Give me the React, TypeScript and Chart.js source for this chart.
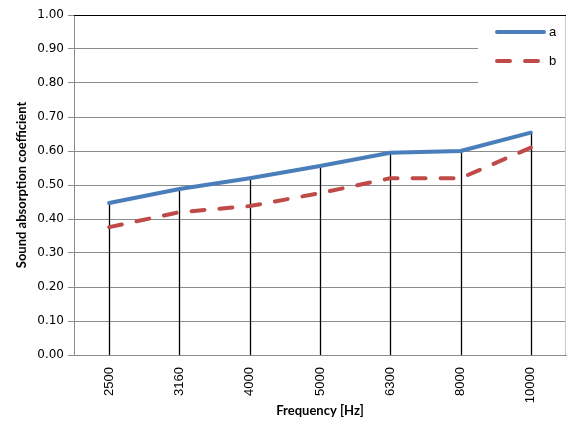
import React, { useEffect, useRef } from "react";
import { Chart, registerables } from "chart.js";

Chart.register(...registerables);

const categories = ["2500", "3160", "4000", "5000", "6300", "8000", "10000"];
const seriesA = [0.447, 0.488, 0.52, 0.556, 0.595, 0.6, 0.654];
const seriesB = [0.376, 0.42, 0.438, 0.476, 0.52, 0.52, 0.61];
const seriesNames = ["a", "b"];
const yTitle = "Sound absorption coefficient";
const xTitle = "Frequency [Hz]";

const BLUE = "#4a7ebb";
const RED = "#be4b48";

const extrasPlugin = {
  id: "extras",
  beforeDatasetsDraw(chart: any) {
    const { ctx, chartArea, scales } = chart;
    const x = scales.x;
    const y = scales.y;
    ctx.save();
    // right border
    ctx.strokeStyle = "#c8c8c8";
    ctx.lineWidth = 1;
    ctx.beginPath();
    ctx.moveTo(chartArea.right - 0.5, chartArea.top);
    ctx.lineTo(chartArea.right - 0.5, chartArea.bottom);
    ctx.stroke();
    // top border
    ctx.strokeStyle = "#000000";
    ctx.beginPath();
    ctx.moveTo(chartArea.left, Math.round(y.getPixelForValue(1)) + 0.5);
    ctx.lineTo(chartArea.right, Math.round(y.getPixelForValue(1)) + 0.5);
    ctx.stroke();
    // drop lines
    ctx.strokeStyle = "#000000";
    ctx.lineWidth = 1.3;
    categories.forEach((c, i) => {
      const px = Math.round(x.getPixelForValue(i)) + 0.5;
      const top = y.getPixelForValue(Math.max(seriesA[i], seriesB[i]));
      ctx.beginPath();
      ctx.moveTo(px, top);
      ctx.lineTo(px, y.getPixelForValue(0));
      ctx.stroke();
    });
    ctx.restore();
  },
  afterDraw(chart: any) {
    const { ctx, chartArea } = chart;
    ctx.save();
    // legend background
    ctx.fillStyle = "#ffffff";
    ctx.fillRect(478, chartArea.top + 1, chartArea.right - 1 - 478, 67);
    ctx.lineCap = "round";
    ctx.lineWidth = 4;
    // a
    ctx.strokeStyle = BLUE;
    ctx.beginPath();
    ctx.moveTo(497, 32);
    ctx.lineTo(544, 32);
    ctx.stroke();
    // b
    ctx.strokeStyle = RED;
    ctx.setLineDash([13, 15]);
    ctx.beginPath();
    ctx.moveTo(497, 61);
    ctx.lineTo(544, 61);
    ctx.stroke();
    ctx.setLineDash([]);
    ctx.fillStyle = "#000000";
    ctx.font = "13px 'Liberation Sans', Arial, sans-serif";
    ctx.textBaseline = "middle";
    ctx.textAlign = "left";
    ctx.fillText(seriesNames[0], 549, 32);
    ctx.fillText(seriesNames[1], 549, 61);
    ctx.restore();
  },
};

export default function App() {
  const ref = useRef<HTMLCanvasElement>(null);
  useEffect(() => {
    if (!ref.current) return;
    const chart = new Chart(ref.current, {
      type: "line",
      data: {
        labels: categories,
        datasets: [
          {
            label: seriesNames[0],
            data: seriesA,
            borderColor: BLUE,
            backgroundColor: BLUE,
            borderWidth: 4,
            pointRadius: 0,
            tension: 0,
            borderCapStyle: "round",
            borderJoinStyle: "round",
          },
          {
            label: seriesNames[1],
            data: seriesB,
            borderColor: RED,
            backgroundColor: RED,
            borderWidth: 4,
            borderDash: [13, 15],
            pointRadius: 0,
            tension: 0,
            borderCapStyle: "round",
            borderJoinStyle: "round",
          },
        ],
      },
      options: {
        animation: false,
        responsive: false,
        maintainAspectRatio: false,
        layout: { padding: { top: 15, right: 1, left: 0, bottom: 0 } },
        plugins: {
          legend: { display: false },
          tooltip: { enabled: false },
        },
        scales: {
          x: {
            offset: true,
            grid: { display: false, drawTicks: false },
            border: { display: true, color: "#8c8c8c", width: 1 },
            ticks: {
              minRotation: 90,
              maxRotation: 90,
              padding: 12,
              color: "#000000",
              font: { family: "'Liberation Sans', Arial, sans-serif", size: 13 },
            },
            title: {
              display: true,
              text: xTitle,
              color: "#000000",
              font: { family: "Lato, 'Open Sans', sans-serif", size: 13, weight: "bold" },
              padding: { top: 0, bottom: 7 },
            },
            afterFit: (s: any) => {
              s.height = 71;
            },
          },
          y: {
            min: 0,
            max: 1,
            ticks: {
              stepSize: 0.1,
              color: "#000000",
              padding: 4,
              font: { family: "'DejaVu Sans', Verdana, sans-serif", size: 12 },
              callback: (v: any) => Number(v).toFixed(2),
            },
            grid: {
              color: "#8c8c8c",
              lineWidth: 1,
              drawTicks: true,
              tickLength: 6,
            },
            border: { display: true, color: "#8c8c8c", width: 1 },
            title: {
              display: true,
              text: yTitle,
              color: "#000000",
              font: { family: "Lato, 'Open Sans', sans-serif", size: 13, weight: "bold" },
              padding: { top: 14, bottom: 2 },
            },
            afterFit: (s: any) => {
              s.width = 74;
            },
          },
        },
      },
      plugins: [extrasPlugin],
    });
    return () => chart.destroy();
  }, []);
  return (
    <div style={{ position: "absolute", left: 0, top: 0, width: 567, height: 426, background: "#fff" }}>
      <canvas ref={ref} width={567} height={426} style={{ width: 567, height: 426, display: "block" }} />
    </div>
  );
}
